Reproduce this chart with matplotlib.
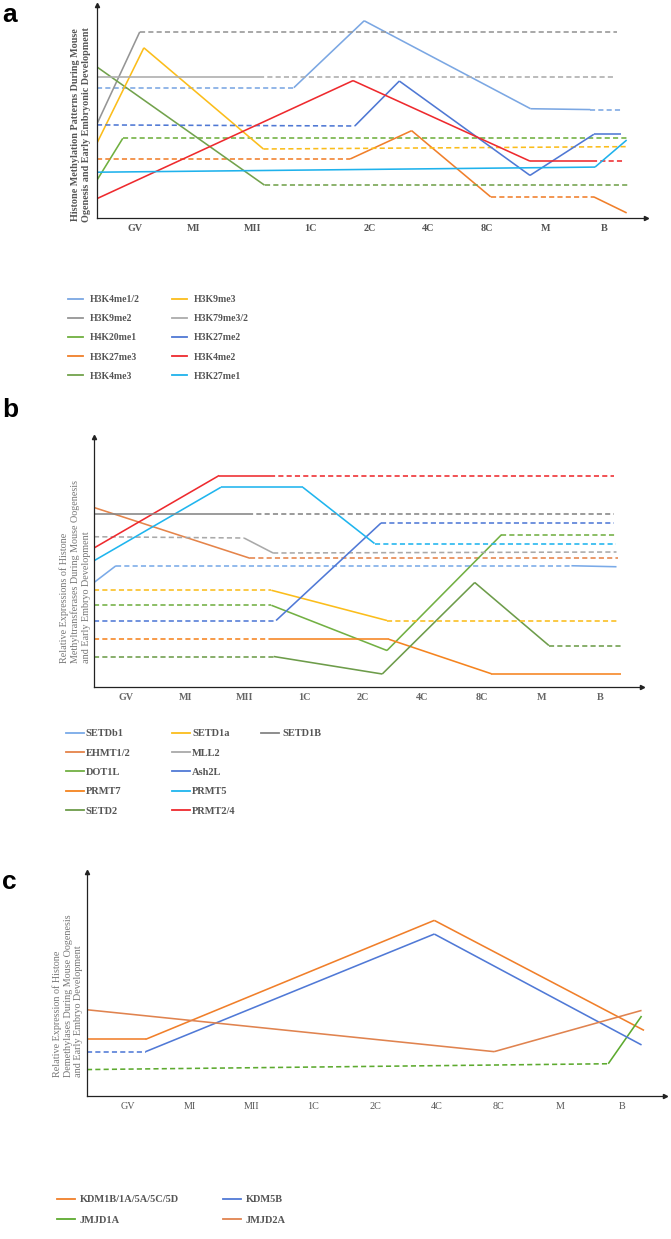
import matplotlib
matplotlib.use("Agg")
import matplotlib.pyplot as plt
from matplotlib.lines import Line2D

# ---------------- data ----------------
stages = ["GV", "MI", "MII", "1C", "2C", "4C", "8C", "M", "B"]

# Panel a : histone methylation patterns (schematic relative levels 0-100)
a_labels = ["H3K4me1/2", "H3K9me2", "H4K20me1", "H3K27me3", "H3K4me3",
            "H3K9me3", "H3K79me3/2", "H3K27me2", "H3K4me2", "H3K27me1"]
a_H3K4me1_x = [-0.65, 2.71, 3.91, 6.75, 7.77, 8.29]
a_H3K4me1_y = [61.2, 61.2, 92.6, 51.3, 50.9, 50.9]
a_H3K9me2_x = [-0.65, 0.08, 8.23]
a_H3K9me2_y = [44.2, 87.4, 87.4]
a_H4K20me1_x = [-0.65, -0.21, 8.42]
a_H4K20me1_y = [17.8, 37.4, 37.4]
a_H3K27me3_x = [-0.65, 3.67, 4.72, 6.07, 7.83, 8.39]
a_H3K27me3_y = [27.7, 27.7, 41.0, 9.9, 9.9, 2.4]
a_H3K4me3_x = [-0.65, 2.21, 8.42]
a_H3K4me3_y = [70.9, 15.4, 15.4]
a_H3K9me3_x = [-0.65, 0.15, 2.19, 8.38]
a_H3K9me3_y = [35.2, 79.9, 32.4, 33.5]
a_H3K79me_x = [-0.65, 2.11, 8.18]
a_H3K79me_y = [66.2, 66.2, 66.2]
a_H3K27me2_x = [-0.65, 3.75, 4.51, 6.74, 7.83, 8.29]
a_H3K27me2_y = [43.7, 43.2, 64.3, 20.0, 39.3, 39.3]
a_H3K4me2_x = [-0.65, 3.72, 6.74, 7.80, 8.36]
a_H3K4me2_y = [9.1, 64.5, 26.7, 26.7, 26.7]
a_H3K27me1_x = [-0.65, 7.85, 8.39]
a_H3K27me1_y = [21.5, 23.9, 36.6]

# Panel b : histone methyltransferases
b_labels = ["SETDb1", "EHMT1/2", "DOT1L", "PRMT7", "SETD2",
            "SETD1a", "MLL2", "Ash2L", "PRMT5", "PRMT2/4", "SETD1B"]
b_SETDb1_x = [-0.54, -0.17, 7.51, 8.27]
b_SETDb1_y = [41.8, 48.5, 48.5, 48.1]
b_EHMT_x = [-0.54, 2.09, 8.30]
b_EHMT_y = [71.8, 51.5, 51.5]
b_DOT1L_x = [-0.54, 2.45, 4.40, 6.33, 8.27]
b_DOT1L_y = [32.7, 32.7, 14.6, 60.9, 60.9]
b_PRMT7_x = [-0.54, 2.45, 4.43, 6.16, 8.34]
b_PRMT7_y = [19.1, 19.1, 19.1, 5.3, 5.3]
b_SETD2_x = [-0.54, 2.49, 4.32, 5.88, 7.13, 8.34]
b_SETD2_y = [12.2, 12.2, 5.2, 41.8, 16.6, 16.6]
b_SETD1a_x = [-0.54, 2.45, 4.40, 8.30]
b_SETD1a_y = [38.7, 38.7, 26.6, 26.6]
b_MLL2_x = [-0.54, 1.99, 2.48, 8.27]
b_MLL2_y = [60.1, 59.6, 53.6, 54.0]
b_Ash2L_x = [-0.54, 2.53, 4.30, 8.23]
b_Ash2L_y = [26.6, 26.6, 65.6, 65.6]
b_PRMT5_x = [-0.54, 1.60, 2.98, 4.19, 8.27]
b_PRMT5_y = [50.5, 79.9, 79.9, 57.4, 57.4]
b_PRMT24_x = [-0.54, 1.57, 2.42, 8.23]
b_PRMT24_y = [55.6, 84.6, 84.6, 84.6]
b_SETD1B_x = [-0.54, 2.06, 8.23]
b_SETD1B_y = [69.1, 69.1, 69.1]

# Panel c : histone demethylases
c_labels = ["KDM1B/1A/5A/5C/5D", "JMJD1A", "KDM5B", "JMJD2A"]
c_KDM1B_x = [-0.67, 0.28, 4.96, 8.36]
c_KDM1B_y = [25.3, 25.3, 78.4, 29.3]
c_JMJD1A_x = [-0.67, 7.78, 8.32]
c_JMJD1A_y = [11.8, 14.4, 35.7]
c_KDM5B_x = [-0.67, 0.28, 4.96, 8.32]
c_KDM5B_y = [19.8, 19.8, 72.3, 22.8]
c_JMJD2A_x = [-0.67, 5.93, 8.32]
c_JMJD2A_y = [38.5, 19.8, 38.2]

# ---------------- styles ----------------
S, D = "-", "--"
a_series = [
    (a_H3K4me1_x, a_H3K4me1_y, "#7ba7e3", [D, S, S, S, D]),
    (a_H3K9me2_x, a_H3K9me2_y, "#959595", [S, D]),
    (a_H4K20me1_x, a_H4K20me1_y, "#6fb03f", [S, D]),
    (a_H3K27me3_x, a_H3K27me3_y, "#f07f2a", [D, S, S, D, S]),
    (a_H3K4me3_x, a_H3K4me3_y, "#72a24c", [S, D]),
    (a_H3K9me3_x, a_H3K9me3_y, "#fbbd1b", [S, S, D]),
    (a_H3K79me_x, a_H3K79me_y, "#ababab", [S, D]),
    (a_H3K27me2_x, a_H3K27me2_y, "#4f78d4", [D, S, S, S, S]),
    (a_H3K4me2_x, a_H3K4me2_y, "#ee2a2e", [S, S, S, D]),
    (a_H3K27me1_x, a_H3K27me1_y, "#1fb2ec", [S, S]),
]
b_series = [
    (b_SETDb1_x, b_SETDb1_y, "#7aaae8", [S, D, S]),
    (b_EHMT_x, b_EHMT_y, "#e5844a", [S, D]),
    (b_DOT1L_x, b_DOT1L_y, "#72b043", [D, S, S, D]),
    (b_PRMT7_x, b_PRMT7_y, "#f5841f", [D, S, S, S]),
    (b_SETD2_x, b_SETD2_y, "#6d9c4a", [D, S, S, S, D]),
    (b_SETD1a_x, b_SETD1a_y, "#fbbd1b", [D, S, D]),
    (b_MLL2_x, b_MLL2_y, "#a9a9a9", [D, S, D]),
    (b_Ash2L_x, b_Ash2L_y, "#5079d6", [D, S, D]),
    (b_PRMT5_x, b_PRMT5_y, "#1fb5ee", [S, S, S, D]),
    (b_PRMT24_x, b_PRMT24_y, "#ee2a2e", [S, S, D]),
    (b_SETD1B_x, b_SETD1B_y, "#858585", [S, D]),
]
c_series = [
    (c_KDM1B_x, c_KDM1B_y, "#f07f2a", [S, S, S]),
    (c_JMJD1A_x, c_JMJD1A_y, "#5daa2f", [D, S]),
    (c_KDM5B_x, c_KDM5B_y, "#5079d6", [D, S, S]),
    (c_JMJD2A_x, c_JMJD2A_y, "#e0834f", [S, S]),
]

SERIF = ["Liberation Serif", "DejaVu Serif"]
LW = 1.15
DASH = (3.2, 2.0)

W, H = 671, 1239
fig = plt.figure(figsize=(W / 100, H / 100), dpi=100)


def px_axes(l, r, b, t):
    return [l / W, 1 - b / H, (r - l) / W, (b - t) / H]


def draw_panel(rect, xlim, series, tick_bold, tick_color):
    ax = fig.add_axes(rect)
    for xs, ys, col, segs in series:
        for i, st in enumerate(segs):
            kw = dict(color=col, lw=LW, solid_capstyle="butt")
            if st == D:
                ax.plot(xs[i:i + 2], ys[i:i + 2], linestyle=(0, DASH), **kw)
            else:
                ax.plot(xs[i:i + 2], ys[i:i + 2], linestyle="-", **kw)
    ax.set_xlim(*xlim)
    ax.set_ylim(0, 100)
    for sp in ["top", "right"]:
        ax.spines[sp].set_visible(False)
    for sp in ["left", "bottom"]:
        ax.spines[sp].set_color("#222222")
        ax.spines[sp].set_linewidth(0.9)
    ax.set_yticks([])
    ax.set_xticks(range(len(stages)))
    ax.set_xticklabels(stages, family=SERIF, fontsize=7.3,
                       fontweight="bold" if tick_bold else "normal",
                       color=tick_color)
    ax.tick_params(axis="x", length=0, pad=4)
    ax.plot(1, 0, ">", color="#222222", ms=3, transform=ax.transAxes, clip_on=False)
    ax.plot(0, 1, "^", color="#222222", ms=3, transform=ax.transAxes, clip_on=False)
    ax.patch.set_alpha(0)
    return ax


axa = draw_panel(px_axes(97, 646, 218, 5), (-0.65, 8.72), a_series, True, "#555555")
axb = draw_panel(px_axes(94, 642, 687, 437), (-0.54, 8.70), b_series, True, "#666666")
axc = draw_panel(px_axes(87, 665, 1096, 872), (-0.67, 8.70), c_series, False, "#555555")

# panel letters
for lab, x, y in [("a", 2, 3), ("b", 2, 398), ("c", 2, 870)]:
    fig.text(x / W, 1 - y / H, lab, family=["Liberation Sans", "DejaVu Sans"],
             fontweight="bold", fontsize=19, ha="left", va="top")

# y labels
fig.text(81 / W, 1 - 125 / H,
         "Histone Methylation Patterns During Mouse\nOgenesis and Early Embryonic Development",
         rotation=90, ha="center", va="center", multialignment="center",
         family=SERIF, fontsize=7.3, fontweight="bold", color="#555555", linespacing=1.3)
fig.text(75 / W, 1 - 663 / H,
         "Relative Expressions of Histone\nMethyltransferases During Mouse Oogenesis\nand Early Embryo Development",
         rotation=90, ha="center", va="bottom", multialignment="left",
         family=SERIF, fontsize=7.3, color="#777777", linespacing=1.2)
fig.text(68 / W, 1 - 1077 / H,
         "Relative Expression of Histone\nDemethylases During Mouse Oogenesis\nand Early Embryo Development",
         rotation=90, ha="center", va="bottom", multialignment="left",
         family=SERIF, fontsize=7.3, color="#777777", linespacing=1.2)

# legends
prop = dict(family=SERIF, weight="bold", size=7)


def handles(series):
    return [Line2D([], [], color=s[2], lw=1.3) for s in series]


fig.legend(handles(a_series), a_labels, ncol=2, loc="upper left",
           bbox_to_anchor=(68 / W, 1 - 295 / H), frameon=False, prop=prop,
           labelcolor="#555555", handlelength=1.55, handletextpad=0.7,
           columnspacing=3.3, labelspacing=1.05, borderpad=0, borderaxespad=0)

hb = handles(b_series)
fig.legend(hb[:10], b_labels[:10], ncol=2, loc="upper left",
           bbox_to_anchor=(66 / W, 1 - 729 / H), frameon=False, prop=dict(prop, size=7.5),
           labelcolor="#555555", handlelength=1.7, handletextpad=0.2,
           columnspacing=4.0, labelspacing=0.97, borderpad=0, borderaxespad=0)
fig.legend(hb[10:], b_labels[10:], ncol=1, loc="upper left",
           bbox_to_anchor=(261 / W, 1 - 729 / H), frameon=False, prop=dict(prop, size=7.5),
           labelcolor="#555555", handlelength=1.7, handletextpad=0.4,
           borderpad=0, borderaxespad=0)

fig.legend(handles(c_series), c_labels, ncol=2, loc="upper left",
           bbox_to_anchor=(57 / W, 1 - 1195 / H), frameon=False, prop=dict(prop, size=7.5),
           labelcolor="#555555", handlelength=1.7, handletextpad=0.5,
           columnspacing=4.2, labelspacing=1.1, borderpad=0, borderaxespad=0)

fig.savefig("out.png", dpi=100)
